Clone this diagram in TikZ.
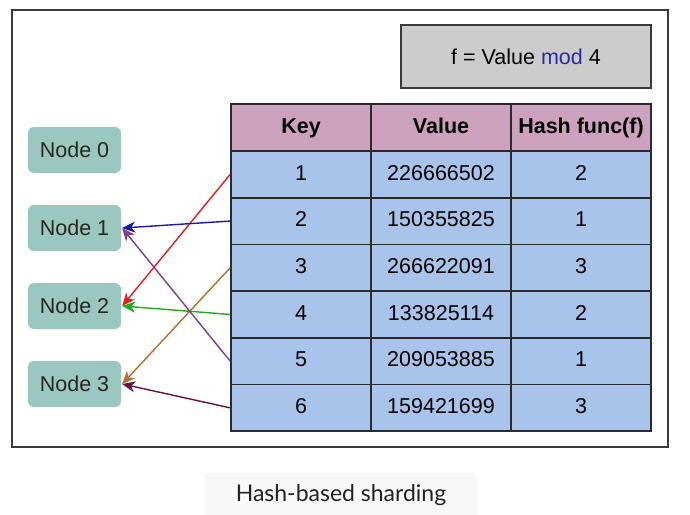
\documentclass[tikz,border=0pt]{standalone}
\usepackage{fontspec}
\setmainfont{Liberation Sans}
\newfontfamily\capfont{Lato}
\usetikzlibrary{arrows.meta}

\definecolor{framegray}{HTML}{3A3A3A}
\definecolor{formulafill}{HTML}{CCCCCC}
\definecolor{modblue}{HTML}{2A2AA0}
\definecolor{headfill}{HTML}{CDA2BE}
\definecolor{rowfill}{HTML}{A9C4EB}
\definecolor{cellline}{HTML}{2B2B2B}
\definecolor{nodefill}{HTML}{9AC7BF}
\definecolor{capbg}{HTML}{F7F8FA}
\definecolor{captext}{HTML}{22222A}
\definecolor{arrred}{HTML}{E02020}
\definecolor{arrblue}{HTML}{1A1AAA}
\definecolor{arrbrown}{HTML}{B86E2C}
\definecolor{arrgreen}{HTML}{1FAA1F}
\definecolor{arrpurple}{HTML}{833C95}
\definecolor{arrmaroon}{HTML}{6B1041}

\tikzset{
  frame/.style={draw=framegray, line width=1.6pt},
  formula/.style={draw=framegray, fill=formulafill, line width=1.6pt,
    minimum width=250pt, minimum height=63pt, inner sep=0pt,
    font=\fontsize{21.5}{24}\selectfont},
  cell/.style={draw=cellline, line width=1.6pt, minimum width=140pt,
    minimum height=46.7pt, inner sep=0pt, text height=15.5pt, text depth=4pt,
    font=\fontsize{21.5}{24}\selectfont},
  headcell/.style={cell, fill=headfill, font=\fontsize{21.5}{24}\selectfont\bfseries},
  bodycell/.style={cell, fill=rowfill},
  server/.style={fill=nodefill, rounded corners=6pt, minimum width=93pt,
    minimum height=46pt, inner sep=0pt, text=black!85,
    font=\fontsize{21.5}{24}\selectfont},
  link/.style={line width=1.4pt, -{Stealth[length=13pt,width=11pt,inset=4pt]}},
}

\begin{document}
\begin{tikzpicture}[x=1pt, y=-1pt]
  \useasboundingbox (0,0) rectangle (690,514);
  \fill[white] (0,0) rectangle (690,514);

  % outer frame
  \draw[frame] (12,10) rectangle (668,447);

  % hash function box
  \node[formula] (fbox) at (526,56.5) {f = Value \textcolor{modblue}{mod} 4};

  % table header
  \node[headcell] (hk) at (301,127.5) {Key};
  \node[headcell] (hv) at (441,127.5) {Value};
  \node[headcell] (hh) at (581,127.5) {Hash func(f)};

  % table rows
  \foreach \i/\val/\h in {1/226666502/2, 2/150355825/1, 3/266622091/3,
                          4/133825114/2, 5/209053885/1, 6/159421699/3}{
    \pgfmathsetmacro{\yc}{151 + 46.7*(\i - 0.5)}
    \node[bodycell] (k\i) at (301,\yc) {\i};
    \node[bodycell] (v\i) at (441,\yc) {\val};
    \node[bodycell] (h\i) at (581,\yc) {\h};
  }

  % storage nodes
  \node[server] (n0) at (74.5,150) {Node 0};
  \node[server] (n1) at (74.5,228) {Node 1};
  \node[server] (n2) at (74.5,306) {Node 2};
  \node[server] (n3) at (74.5,384) {Node 3};

  % key -> node assignments
  \draw[link, arrred]    (k1.west) -- ([xshift=1pt]n2.east);
  \draw[link, arrblue]   (k2.west) -- ([xshift=1pt]n1.east);
  \draw[link, arrbrown]  (k3.west) -- ([xshift=1pt]n3.east);
  \draw[link, arrgreen]  (k4.west) -- ([xshift=1pt]n2.east);
  \draw[link, arrpurple] (k5.west) -- ([xshift=1pt]n1.east);
  \draw[link, arrmaroon] (k6.west) -- ([xshift=1pt]n3.east);

  % caption
  \fill[capbg, rounded corners=4pt] (204,473) rectangle (477,530);
  \node[text=captext, font=\capfont\fontsize{23}{26}\selectfont] (cap) at (341,495) {Hash-based sharding};
\end{tikzpicture}
\end{document}
